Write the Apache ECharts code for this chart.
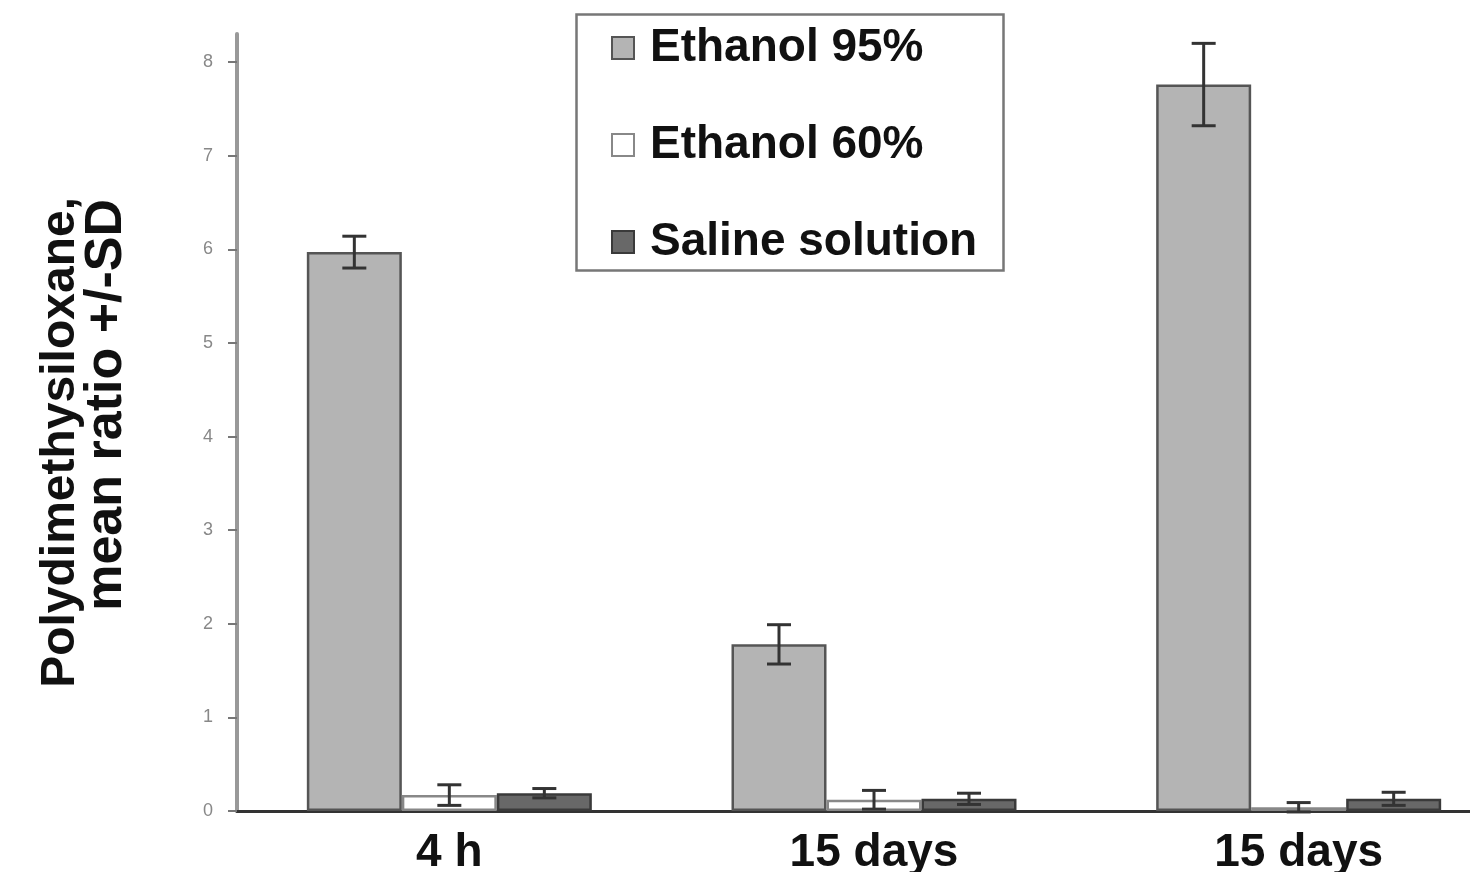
<!DOCTYPE html>
<html><head><meta charset="utf-8">
<script src="https://cdn.jsdelivr.net/npm/echarts@6/dist/echarts.min.js"></script>
<style>html,body{margin:0;padding:0;background:#fff}#c{width:1470px;height:872px}</style>
</head><body><div id="c"></div>
<script>
const categories = ['4 h', '15 days', '15 days'];
const seriesNames = ['Ethanol 95%', 'Ethanol 60%', 'Saline solution'];
const ethanol95 = [5.97, 1.78, 7.76];
const ethanol95Sd = [0.17, 0.21, 0.44];
const ethanol60 = [0.17, 0.12, 0.04];
const ethanol60Sd = [0.11, 0.10, 0.05];
const saline = [0.19, 0.13, 0.13];
const salineSd = [0.05, 0.06, 0.07];
const yTicks = [0, 1, 2, 3, 4, 5, 6, 7, 8];
const yTitleLines = ['Polydimethysiloxane,', 'mean ratio +/-SD'];

const BW = 95;
const fills = ['#b4b4b4', '#ffffff', '#686868'];
const borders = ['#555555', '#888888', '#3a3a3a'];
const means = [ethanol95, ethanol60, saline];
const sds = [ethanol95Sd, ethanol60Sd, salineSd];
const FONT = 'Liberation Sans, Arial, sans-serif';

const chart = echarts.init(document.getElementById('c'));
const series = [];
means.forEach((m, i) => {
  series.push({
    name: seriesNames[i], type: 'bar', data: m, barWidth: BW, barGap: '0%',
    itemStyle: { color: fills[i], borderColor: borders[i], borderWidth: 2.5 }
  });
});
means.forEach((m, i) => {
  series.push({
    type: 'custom', name: seriesNames[i] + ' SD', z: 5, silent: true,
    data: m.map((v, k) => [k, v - sds[i][k], v + sds[i][k]]),
    renderItem: function (params, api) {
      const lo = api.coord([api.value(0), api.value(1)]);
      const hi = api.coord([api.value(0), api.value(2)]);
      const x = lo[0] + (i - 1) * BW;
      const cap = 12;
      const st = { stroke: '#333', lineWidth: 3 };
      return { type: 'group', children: [
        { type: 'line', shape: { x1: x, y1: lo[1], x2: x, y2: hi[1] }, style: st },
        { type: 'line', shape: { x1: x - cap, y1: lo[1], x2: x + cap, y2: lo[1] }, style: st },
        { type: 'line', shape: { x1: x - cap, y1: hi[1], x2: x + cap, y2: hi[1] }, style: st }
      ]};
    }
  });
});

chart.setOption({
  animation: false,
  grid: { left: 237, top: 34, right: -41, bottom: 61, outerBoundsMode: 'none', containLabel: false },
  legend: {
    data: seriesNames, orient: 'vertical', left: 606, top: 20, icon: 'rect',
    itemWidth: 22, itemHeight: 22, itemGap: 51,
    textStyle: { fontSize: 46, fontWeight: 'bold', color: '#111', fontFamily: FONT, padding: [0, 0, 0, 11] },
    selectedMode: false
  },
  graphic: [
    { type: 'rect', left: 574, top: 12, shape: { width: 427, height: 256 },
      style: { fill: 'none', stroke: '#777', lineWidth: 2.5 }, z: 10 },
    { type: 'text', x: 61, y: 197, rotation: Math.PI / 2,
      style: { text: yTitleLines[0], font: 'bold 48px ' + FONT, fill: '#111', align: 'right', verticalAlign: 'middle' } },
    { type: 'text', x: 107, y: 199, rotation: Math.PI / 2,
      style: { text: yTitleLines[1], font: 'bold 52px ' + FONT, fill: '#111', align: 'right', verticalAlign: 'middle' } }
  ],
  xAxis: {
    type: 'category', data: categories,
    axisLine: { lineStyle: { color: '#333', width: 3 } },
    axisTick: { show: false },
    axisLabel: { fontSize: 46, fontWeight: 'bold', color: '#111', fontFamily: FONT, margin: 19 }
  },
  yAxis: {
    type: 'value', min: 0, max: 8.3, interval: 1,
    splitLine: { show: false },
    axisLine: { show: true, lineStyle: { color: '#999', width: 4 } },
    axisTick: { show: true, length: 9, customValues: yTicks, lineStyle: { color: '#777', width: 2 } },
    axisLabel: { customValues: yTicks, fontSize: 18, color: '#888', margin: 24, fontFamily: FONT }
  },
  series: series
});
</script></body></html>
